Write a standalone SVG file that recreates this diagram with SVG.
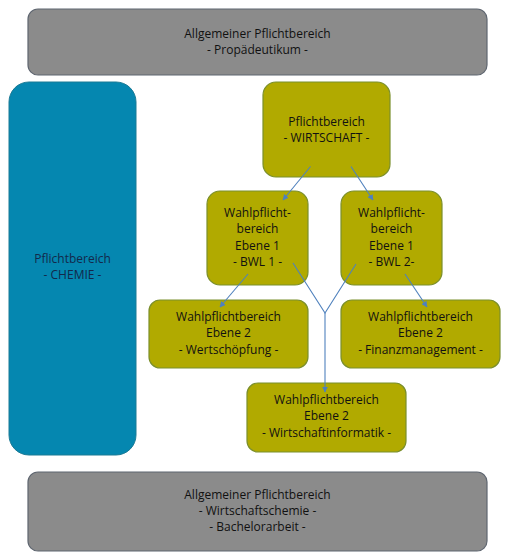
<svg xmlns="http://www.w3.org/2000/svg" width="506" height="559" viewBox="0 0 506 559">
<defs>
<marker id="ah" viewBox="0 0 10 10" refX="9" refY="5" markerWidth="6" markerHeight="6" orient="auto" markerUnits="userSpaceOnUse">
<path d="M0,0 L10,5 L0,10 z" fill="#4f81bd"/>
</marker>
</defs>
<style>
.gray{fill:#8b8b8b;stroke:#5f6670;stroke-width:1.2}
.blue{fill:#0587b0;stroke:#1b7a95;stroke-width:1}
.olive{fill:#b1aa00;stroke:#7b8f2c;stroke-width:1.2}
text{font-family:"Open Sans","Noto Sans","DejaVu Sans",sans-serif;font-size:12px;text-anchor:middle;fill:#111}
.dk{fill:#13294b}
.con{stroke:#4f81bd;stroke-width:1.1;fill:none}
</style>
<rect width="506" height="559" fill="#fff"/>
<g id="top">
<rect class="gray" x="28" y="9" width="459" height="66" rx="10"/>
<text x="257.5" y="37.5">Allgemeiner Pflichtbereich</text>
<text x="257.5" y="53.5">- Propädeutikum -</text>
</g>
<g id="chemie">
<rect class="blue" x="9" y="82" width="127" height="373" rx="20"/>
<text class="dk" x="72.5" y="262.5">Pflichtbereich</text>
<text class="dk" x="72.5" y="279">- CHEMIE -</text>
</g>
<g id="wirtschaft">
<rect class="olive" x="263" y="82" width="127" height="95" rx="13"/>
<text x="326.5" y="125.5">Pflichtbereich</text>
<text x="326.5" y="141.5">- WIRTSCHAFT -</text>
</g>
<g id="bwl1">
<rect class="olive" x="207" y="191" width="101" height="94" rx="13"/>
<text x="257.5" y="217">Wahlpflicht-</text>
<text x="257.5" y="233">bereich</text>
<text x="257.5" y="249.5">Ebene 1</text>
<text x="257.5" y="266">- BWL 1 -</text>
</g>
<g id="bwl2">
<rect class="olive" x="341" y="191" width="101" height="94" rx="13"/>
<text x="391.5" y="217">Wahlpflicht-</text>
<text x="391.5" y="233">bereich</text>
<text x="391.5" y="249.5">Ebene 1</text>
<text x="391.5" y="266">- BWL 2-</text>
</g>
<g id="wertschoepfung">
<rect class="olive" x="149" y="300" width="159" height="68" rx="11"/>
<text x="228.5" y="321">Wahlpflichtbereich</text>
<text x="228.5" y="337">Ebene 2</text>
<text x="228.5" y="354">- Wertschöpfung -</text>
</g>
<g id="finanz">
<rect class="olive" x="341" y="300" width="159" height="68" rx="11"/>
<text x="420.5" y="321">Wahlpflichtbereich</text>
<text x="420.5" y="337">Ebene 2</text>
<text x="420.5" y="354">- Finanzmanagement -</text>
</g>
<g id="informatik">
<rect class="olive" x="247" y="383" width="159" height="69" rx="11"/>
<text x="326.5" y="404">Wahlpflichtbereich</text>
<text x="326.5" y="420">Ebene 2</text>
<text x="326.5" y="437">- Wirtschaftinformatik -</text>
</g>
<g id="bottom">
<rect class="gray" x="28" y="472" width="459" height="79" rx="10"/>
<text x="257.5" y="499">Allgemeiner Pflichtbereich</text>
<text x="257.5" y="515">- Wirtschaftschemie -</text>
<text x="257.5" y="531">- Bachelorarbeit -</text>
</g>
<g id="connectors">
<line class="con" x1="310.5" y1="166.5" x2="283" y2="200" marker-end="url(#ah)"/>
<line class="con" x1="351" y1="166.5" x2="373" y2="200" marker-end="url(#ah)"/>
<line class="con" x1="248" y1="274" x2="220" y2="307" marker-end="url(#ah)"/>
<line class="con" x1="405" y1="274" x2="427" y2="307" marker-end="url(#ah)"/>
<polyline class="con" points="293,263 325,313 356,264"/>
<line class="con" x1="325" y1="313" x2="325" y2="392" marker-end="url(#ah)"/>
</g>
</svg>
